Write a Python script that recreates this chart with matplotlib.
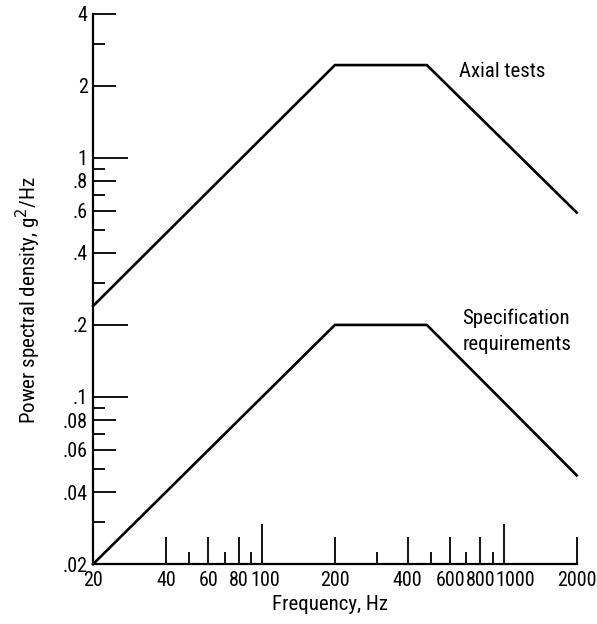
import matplotlib
matplotlib.use("Agg")
import matplotlib.pyplot as plt
from matplotlib.ticker import FixedLocator, FixedFormatter, NullFormatter
from matplotlib.transforms import ScaledTranslation
from matplotlib import font_manager

names = {f.name for f in font_manager.fontManager.ttflist}
fam = [n for n in ["Liberation Sans Narrow", "Roboto Condensed", "Open Sans Condensed", "Liberation Sans"] if n in names] + ["DejaVu Sans"]
plt.rcParams['font.family'] = fam

# Data
freq = [20, 200, 480, 2000]
axial = [0.24, 2.44, 2.44, 0.59]
spec = [0.02, 0.2, 0.2, 0.047]

xmajor = [20, 40, 60, 80, 100, 200, 400, 600, 800, 1000, 2000]
xmajor_labels = ["20", "40", "60", "80", "100", "200", "400", "600", "800", "1000", "2000"]
xminor = [50, 70, 90, 300, 500, 700, 900]
ymajor = [0.02, 0.04, 0.06, 0.08, 0.1, 0.2, 0.4, 0.6, 0.8, 1, 2, 4]
ymajor_labels = [".02", ".04", ".06", ".08", ".1", ".2", ".4", ".6", ".8", "1", "2", "4"]
yminor = [0.03, 0.05, 0.07, 0.09, 0.3, 0.5, 0.7, 0.9, 3]

fig = plt.figure(figsize=(5.97, 6.24), dpi=100)
ax = fig.add_axes([0.156, 0.096, 0.81, 0.882])
ax.set_xscale('log')
ax.set_yscale('log')
ax.set_xlim(20, 2000)
ax.set_ylim(0.02, 4)

ax.plot(freq, axial, color='black', lw=1.9, solid_joinstyle='miter', clip_on=False)
ax.plot(freq, spec, color='black', lw=1.9, solid_joinstyle='miter', clip_on=False)

for s in ['top', 'right']:
    ax.spines[s].set_visible(False)
for s in ['left', 'bottom']:
    ax.spines[s].set_linewidth(1.6)

ax.xaxis.set_major_locator(FixedLocator(xmajor))
ax.xaxis.set_major_formatter(FixedFormatter(xmajor_labels))
ax.xaxis.set_minor_locator(FixedLocator(xminor))
ax.xaxis.set_minor_formatter(NullFormatter())
ax.yaxis.set_major_locator(FixedLocator(ymajor))
ax.yaxis.set_major_formatter(FixedFormatter(ymajor_labels))
ax.yaxis.set_minor_locator(FixedLocator(yminor))
ax.yaxis.set_minor_formatter(NullFormatter())

ax.tick_params(axis='both', which='major', direction='in', width=1.3, labelsize=14.5)
ax.tick_params(axis='both', which='minor', direction='in', width=1.3, length=8.6)
ax.tick_params(axis='x', which='major', length=19.5, pad=5)
ax.tick_params(axis='y', which='major', length=16.5, pad=4)

fig.canvas.draw()
for t, v in zip(ax.xaxis.get_major_ticks(), xmajor):
    if v in (100, 1000):
        t.tick1line.set_markersize(29)
    if v == 1000:
        t.label1.set_transform(t.label1.get_transform() + ScaledTranslation(0.11, 0, fig.dpi_scale_trans))
    if v == 100:
        t.label1.set_transform(t.label1.get_transform() + ScaledTranslation(0.03, 0, fig.dpi_scale_trans))
for t, v in zip(ax.yaxis.get_major_ticks(), ymajor):
    if v in (1, 0.2, 0.1):
        t.tick1line.set_markersize(25)

ax.set_xlabel("Frequency, Hz", fontsize=15)
ax.set_ylabel("Power spectral density, g$^2$/Hz", fontsize=15)
ax.xaxis.set_label_coords(0.489, -0.056)
ax.yaxis.set_label_coords(-0.104, 0.48)

ax.text(0.756, 0.8945, "Axial tests", transform=ax.transAxes, fontsize=15, va='center', ha='left')
ax.text(0.764, 0.4236, "Specification\nrequirements", transform=ax.transAxes, fontsize=15,
        va='center', ha='left', linespacing=1.45)

fig.savefig("out.png", dpi=100)
